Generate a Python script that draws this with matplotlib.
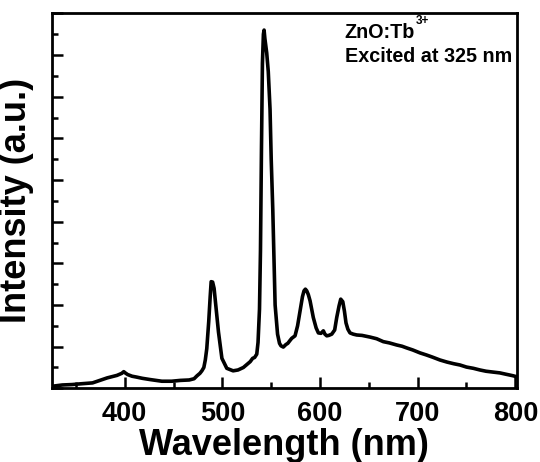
import matplotlib.pyplot as plt
from matplotlib.ticker import MultipleLocator, NullFormatter

plt.rcParams['font.family'] = ['Liberation Sans', 'DejaVu Sans']
plt.rcParams['font.weight'] = 'bold'

# PL emission spectrum (intensity in a.u.)
wavelength = [326, 336, 346, 356, 367, 372, 377, 382, 387, 392, 395, 397, 399, 400.5,
              403, 407.5, 412, 418, 426, 438, 448, 457, 466, 471, 474, 477, 479,
              481, 482.5, 484, 486, 487.5, 488.5, 490, 491.5, 493, 496, 499.5,
              504.5, 511, 516, 521.5, 526, 528.5, 531, 533, 535.2, 536.5, 538,
              539, 540, 541, 542, 542.7, 543.5, 545.4, 547, 548.8, 550, 551.6,
              554, 556.5, 558.5, 560, 562.4, 565, 567, 569.3, 571, 574.4, 577,
              579.5, 582, 583.6, 585, 586.4, 588, 589.8, 593.1, 596, 598.3, 601,
              603.4, 605, 606.9, 609, 612, 615, 617.1, 619.5, 621.2, 623.3, 625,
              626.6, 628.5, 630.7, 634, 637.6, 643, 651.2, 658, 664.8, 671, 678.5,
              684, 688.7, 695, 702.4, 709, 715, 722.8, 730, 737, 743.3, 750, 757,
              763.8, 770, 777, 784.2, 790, 794, 797.9, 801]
intensity = [0.05, 0.08, 0.09, 0.11, 0.13, 0.17, 0.21, 0.25, 0.28, 0.31, 0.34, 0.36,
             0.40, 0.37, 0.33, 0.29, 0.27, 0.24, 0.21, 0.17, 0.17, 0.19, 0.20, 0.23,
             0.30, 0.36, 0.42, 0.50, 0.68, 0.95, 1.60, 2.20, 2.56, 2.55, 2.40, 2.05,
             1.35, 0.72, 0.48, 0.42, 0.44, 0.50, 0.59, 0.64, 0.72, 0.74, 0.82, 1.10,
             1.90, 3.30, 5.70, 7.80, 8.50, 8.60, 8.40, 8.05, 7.60, 6.70, 5.50, 4.30,
             2.00, 1.30, 1.08, 1.02, 0.99, 1.05, 1.08, 1.15, 1.20, 1.26, 1.50, 1.85,
             2.20, 2.34, 2.38, 2.34, 2.25, 2.10, 1.70, 1.45, 1.33, 1.32, 1.38, 1.30,
             1.26, 1.27, 1.30, 1.40, 1.70, 1.98, 2.14, 2.08, 1.85, 1.57, 1.42, 1.33,
             1.30, 1.28, 1.27, 1.23, 1.19, 1.12, 1.09, 1.04, 1.01, 0.97, 0.92, 0.85,
             0.80, 0.75, 0.68, 0.63, 0.59, 0.56, 0.51, 0.48, 0.44, 0.41, 0.39, 0.37,
             0.34, 0.32, 0.30, 0.28]

fig = plt.figure(figsize=(5.4, 4.62), dpi=100)
ax = fig.add_axes([0.0963, 0.1595, 0.8607, 0.8115])

ax.plot(wavelength, intensity, color='black', linewidth=2.6)

ax.set_xlim(325.5, 801.5)
ax.set_ylim(0, 9)

ax.xaxis.set_major_locator(MultipleLocator(100))
ax.xaxis.set_minor_locator(MultipleLocator(50))
ax.yaxis.set_major_locator(MultipleLocator(1))
ax.yaxis.set_minor_locator(MultipleLocator(0.5))
ax.yaxis.set_major_formatter(NullFormatter())

ax.tick_params(axis='both', which='major', direction='in', length=8, width=1.8,
               labelsize=19.5, pad=9)
ax.tick_params(axis='both', which='minor', direction='in', length=4, width=1.8)
ax.tick_params(top=False, right=False)
for lab in ax.get_xticklabels():
    lab.set_fontweight('bold')

for sp in ax.spines.values():
    sp.set_linewidth(2.0)

ax.set_xlabel('Wavelength (nm)', fontsize=26, fontweight='bold', labelpad=1)
ax.set_ylabel('Intensity (a.u.)', fontsize=26, fontweight='bold', labelpad=4)

t1 = ax.text(0.630, 0.934, 'ZnO:Tb', transform=ax.transAxes,
             fontsize=14.2, fontweight='bold', ha='left', va='baseline')
ax.annotate('3+', xy=(1.01, 0.8), xycoords=t1, fontsize=8.5, fontweight='bold',
            ha='left', va='bottom')
ax.text(0.630, 0.871, 'Excited at 325 nm', transform=ax.transAxes,
        fontsize=14.2, fontweight='bold', ha='left', va='baseline')

fig.savefig('out.png', dpi=100)
